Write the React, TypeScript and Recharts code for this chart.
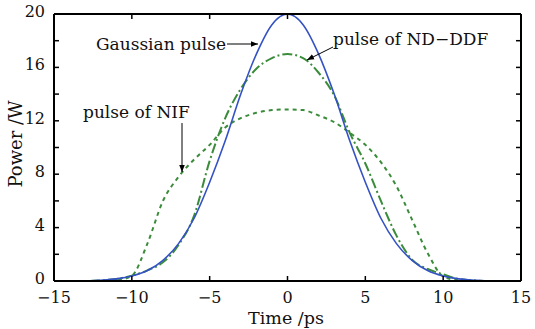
import React from 'react';
import { LineChart, Line, XAxis, YAxis } from 'recharts';

const times = [-15, -14, -13, -12, -11, -10, -9, -8, -7, -6, -5, -4, -3, -2, -1, 0, 1, 2, 3, 4, 5, 6, 7, 8, 9, 10, 11, 12, 13, 14, 15];
const gaussianPulse = [0, 0, 0, 0.06, 0.16, 0.37, 0.78, 1.55, 2.8, 4.7, 7.4, 10.5, 14.0, 17.0, 19.2, 20, 19.2, 17.0, 14.0, 10.5, 7.4, 4.7, 2.8, 1.55, 0.78, 0.37, 0.16, 0.06, 0, 0, 0];
const ndDdfPulse = [0, 0, 0, 0.05, 0.15, 0.4, 0.8, 1.4, 2.7, 4.9, 9.0, 12.2, 14.4, 15.9, 16.7, 17, 16.7, 15.6, 13.9, 11.1, 8.8, 6.0, 3.4, 1.6, 0.9, 0.5, 0.15, 0.05, 0, 0, 0];
const nifPulse = [0, 0, 0, 0, 0.05, 0.4, 2.8, 6.0, 7.8, 9.1, 10.2, 11.5, 12.2, 12.6, 12.8, 12.85, 12.8, 12.4, 11.9, 11.1, 10.2, 8.9, 7.1, 4.6, 2.1, 0.35, 0.05, 0, 0, 0, 0];

const xTicks = [-15, -10, -5, 0, 5, 10, 15];
const yTicks = [0, 2, 4, 6, 8, 10, 12, 14, 16, 18, 20];
const yLabels = [0, 4, 8, 12, 16, 20];

const data = times.map((t, i) => ({
  t,
  gauss: gaussianPulse[i],
  nd: ndDdfPulse[i],
  nif: nifPulse[i],
}));

const FONT = '"DejaVu Serif", serif';
const BLUE = '#3552c4';
const GREEN = '#3a8c3a';

const fmt = (v: number) => (v < 0 ? '\u2212' + Math.abs(v) : String(v));

const BottomTick = ({ x, y, payload }: any) => (
  <g>
    <line x1={x} y1={y} x2={x} y2={y - 5} stroke="#000" strokeWidth={1.5} />
    <text x={x} y={y + 22} textAnchor="middle" fontSize={16} fontFamily={FONT} fill="#111">
      {fmt(payload.value)}
    </text>
  </g>
);

const TopTick = ({ x, y }: any) => (
  <line x1={x} y1={y} x2={x} y2={y + 5} stroke="#000" strokeWidth={1.5} />
);

const LeftTick = ({ x, y, payload }: any) => (
  <g>
    <line x1={x} y1={y} x2={x + 5} y2={y} stroke="#000" strokeWidth={1.5} />
    {yLabels.includes(payload.value) && (
      <text x={x - 9} y={y + 3} textAnchor="end" fontSize={16} fontFamily={FONT} fill="#111">
        {payload.value}
      </text>
    )}
  </g>
);

const RightTick = ({ x, y }: any) => (
  <line x1={x} y1={y} x2={x - 5} y2={y} stroke="#000" strokeWidth={1.5} />
);

export default function App() {
  return (
    <div style={{ position: 'absolute', left: 0, top: 0, width: 535, height: 329, background: '#fff' }}>
      <LineChart width={535} height={329} data={data} margin={{ top: 0, right: 0, bottom: 0, left: 0 }}>
        <XAxis
          dataKey="t"
          type="number"
          domain={[-15, 15]}
          ticks={xTicks}
          height={48}
          tickSize={0}
          tickMargin={0}
          tick={<BottomTick />}
          axisLine={{ stroke: '#000', strokeWidth: 2 }}
          allowDataOverflow
        />
        <XAxis
          xAxisId="top"
          orientation="top"
          type="number"
          domain={[-15, 15]}
          ticks={xTicks}
          height={14}
          tickSize={0}
          tickMargin={0}
          tick={<TopTick />}
          axisLine={{ stroke: '#000', strokeWidth: 2 }}
          allowDataOverflow
        />
        <YAxis
          type="number"
          domain={[0, 20]}
          ticks={yTicks}
          width={54}
          tickSize={0}
          tickMargin={0}
          tick={<LeftTick />}
          axisLine={{ stroke: '#000', strokeWidth: 2 }}
          interval={0}
          allowDataOverflow
        />
        <YAxis
          yAxisId="right"
          orientation="right"
          type="number"
          domain={[0, 20]}
          ticks={yTicks}
          width={14}
          tickSize={0}
          tickMargin={0}
          tick={<RightTick />}
          axisLine={{ stroke: '#000', strokeWidth: 2 }}
          interval={0}
          allowDataOverflow
        />
        <Line type="monotone" dataKey="nif" stroke={GREEN} strokeWidth={2} strokeDasharray="4 4" dot={false} isAnimationActive={false} />
        <Line type="monotone" dataKey="nd" stroke={GREEN} strokeWidth={2} strokeDasharray="10 3 2 3" dot={false} isAnimationActive={false} />
        <Line type="monotone" dataKey="gauss" stroke={BLUE} strokeWidth={1.6} dot={false} isAnimationActive={false} />
      </LineChart>
      <svg width={535} height={329} style={{ position: 'absolute', left: 0, top: 0, pointerEvents: 'none' }}>
        <defs>
          <marker id="arr" viewBox="0 0 10 10" refX="10" refY="5" markerWidth="7" markerHeight="7" orient="auto-start-reverse">
            <path d="M0,1 L10,5 L0,9 z" fill="#000" />
          </marker>
        </defs>
        <g fontFamily={FONT} fontSize={17} fill="#111">
          <text x={96} y={50}>Gaussian pulse</text>
          <text x={333} y={45}>pulse of ND{'\u2212'}DDF</text>
          <text x={83} y={118}>pulse of NIF</text>
          <text x={286} y={324} textAnchor="middle" fontSize={17.5}>Time /ps</text>
          <text x={21.5} y={144} textAnchor="middle" fontSize={18} transform="rotate(-90 21.5 144)">Power /W</text>
        </g>
        <line x1={227} y1={44} x2={258} y2={44} stroke="#000" strokeWidth={1} markerEnd="url(#arr)" />
        <line x1={333} y1={47} x2={307} y2={60} stroke="#000" strokeWidth={1} markerEnd="url(#arr)" />
        <line x1={182} y1={123} x2={182} y2={172} stroke="#000" strokeWidth={1} markerEnd="url(#arr)" />
      </svg>
    </div>
  );
}
